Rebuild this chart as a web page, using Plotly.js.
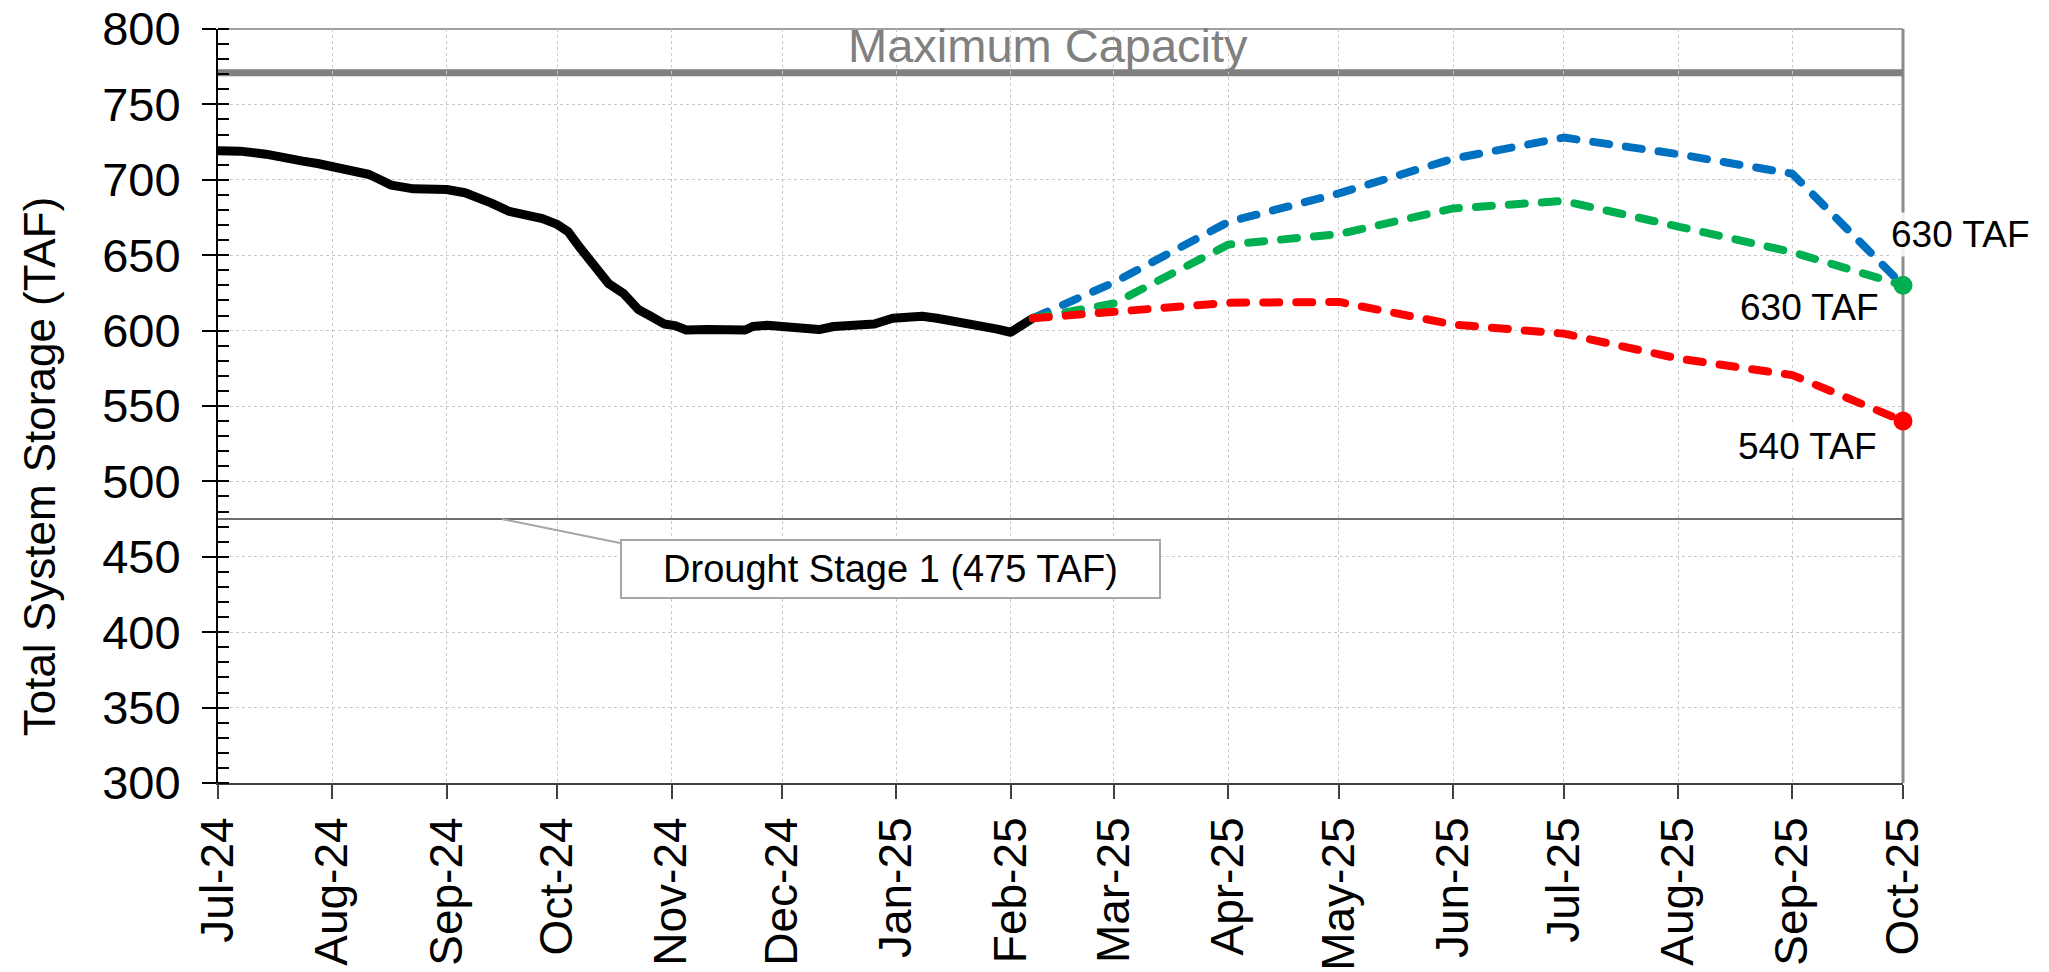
<!DOCTYPE html>
<html>
<head>
<meta charset="utf-8">
<script src="https://cdn.plot.ly/plotly-3.0.1.min.js"></script>
<style>
  html, body { margin: 0; padding: 0; background: #fff; }
  #chart { width: 2049px; height: 972px; }
  .scatterlayer .js-line { stroke-linecap: round !important; stroke-linejoin: round !important; }
</style>
</head>
<body>
<div id="chart"></div>
<script>
// ---- Data ----
const monthTicks = ['2024-07-01','2024-08-01','2024-09-01','2024-10-01','2024-11-01','2024-12-01',
  '2025-01-01','2025-02-01','2025-03-01','2025-04-01','2025-05-01','2025-06-01','2025-07-01',
  '2025-08-01','2025-09-01','2025-10-01'];
const monthLabels = ['Jul-24','Aug-24','Sep-24','Oct-24','Nov-24','Dec-24','Jan-25','Feb-25',
  'Mar-25','Apr-25','May-25','Jun-25','Jul-25','Aug-25','Sep-25','Oct-25'];

const histDates = ['2024-07-01','2024-07-07','2024-07-14','2024-07-19','2024-07-24','2024-07-28',
  '2024-08-01','2024-08-08','2024-08-11','2024-08-14','2024-08-17','2024-08-23','2024-09-01',
  '2024-09-06','2024-09-11','2024-09-13','2024-09-18','2024-09-22','2024-09-27','2024-10-01',
  '2024-10-04','2024-10-07','2024-10-12','2024-10-15','2024-10-19','2024-10-23','2024-10-26',
  '2024-10-30','2024-11-02','2024-11-05','2024-11-11','2024-11-15','2024-11-21','2024-11-23',
  '2024-11-27','2024-12-01','2024-12-07','2024-12-11','2024-12-15','2024-12-21','2024-12-26',
  '2024-12-31','2025-01-04','2025-01-08','2025-01-12','2025-01-18','2025-01-23','2025-01-28',
  '2025-02-01','2025-02-03','2025-02-05','2025-02-07'];
const histStorage = [719.2,719.0,717.0,714.0,712.4,710.8,
  708.6,705.3,703.5,700.0,696.5,694.0,693.6,
  691.4,687.6,684.7,679.0,677.0,674.3,670.4,
  665.5,655.5,640.0,631.0,624.6,614.0,610.0,
  604.4,603.3,600.4,600.7,601.1,600.4,602.7,
  603.5,602.7,601.5,600.7,602.7,602.9,604.4,
  608.2,609.3,609.5,608.2,606.0,604.4,601.1,
  598.9,602.2,606.2,608.2];

const forecastDates = ['2025-02-07','2025-03-01','2025-04-01','2025-05-01','2025-06-01',
  '2025-07-01','2025-08-01','2025-09-01','2025-10-01'];
const wetForecast = [608.2, 632, 672, 691, 714, 728, 717, 704, 630];
const avgForecast = [608.2, 618, 657, 664, 681, 686, 669, 652, 630];
const dryForecast = [608.2, 612, 618.5, 619, 604, 598, 581.5, 570.5, 540];

const maxCapacity = 771;
const droughtStage1 = 475;
const droughtLabelDate = '2024-09-16';

const endLabels = ['630 TAF', '630 TAF', '540 TAF'];

// ---- Styling ----
const FONT = 'Liberation Sans, Arial, sans-serif';
const BLUE = '#0070C0', GREEN = '#00B050', RED = '#FF0000';
const DASH = '16px,17px';
const last = a => a[a.length - 1];

const traces = [
  { x: histDates, y: histStorage, type: 'scatter', mode: 'lines', name: 'Observed',
    line: { color: '#000000', width: 9 } },
  { x: forecastDates, y: wetForecast, type: 'scatter', mode: 'lines', name: 'Wet',
    line: { color: BLUE, width: 8, dash: DASH } },
  { x: forecastDates, y: avgForecast, type: 'scatter', mode: 'lines', name: 'Average',
    line: { color: GREEN, width: 8, dash: DASH } },
  { x: forecastDates, y: dryForecast, type: 'scatter', mode: 'lines', name: 'Dry',
    line: { color: RED, width: 8, dash: DASH } },
  { x: [last(forecastDates)], y: [last(avgForecast)], type: 'scatter', mode: 'markers',
    marker: { color: GREEN, size: 19 }, cliponaxis: false },
  { x: [last(forecastDates)], y: [last(dryForecast)], type: 'scatter', mode: 'markers',
    marker: { color: RED, size: 19 }, cliponaxis: false }
];

const layout = {
  width: 2049, height: 972,
  margin: { l: 218, r: 146, t: 29, b: 189, pad: 0 },
  paper_bgcolor: '#ffffff', plot_bgcolor: '#ffffff',
  showlegend: false,
  font: { family: FONT, color: '#000000', size: 46 },
  xaxis: {
    type: 'date',
    range: [monthTicks[0], last(monthTicks)],
    tickmode: 'array', tickvals: monthTicks, ticktext: monthLabels,
    tickangle: -90,
    tickfont: { family: FONT, size: 46, color: '#000000' },
    ticks: 'outside', ticklen: 14, tickwidth: 2, tickcolor: '#404040',
    showline: true, linecolor: '#404040', linewidth: 2,
    showgrid: true, gridcolor: '#c8c8c8', gridwidth: 1, griddash: 'dot',
    zeroline: false, fixedrange: true
  },
  yaxis: {
    range: [300, 800],
    tick0: 300, dtick: 50,
    tickfont: { family: FONT, size: 47, color: '#000000' },
    ticks: 'outside', ticklen: 14, tickwidth: 2, tickcolor: '#000000',
    ticklabelstandoff: 12,
    minor: { dtick: 10, ticks: 'inside', ticklen: 11, tickwidth: 2, tickcolor: '#000000', showgrid: false },
    showline: true, linecolor: '#000000', linewidth: 2,
    showgrid: true, gridcolor: '#c8c8c8', gridwidth: 1, griddash: 'dot',
    zeroline: false, fixedrange: true
  },
  yaxis2: {
    overlaying: 'y', matches: 'y', side: 'left', range: [300, 800],
    tick0: 300, dtick: 50, ticks: 'inside', ticklen: 11, tickwidth: 2, tickcolor: '#000000',
    showticklabels: false, showgrid: false, showline: false, zeroline: false, fixedrange: true
  },
  shapes: [
    { type: 'line', layer: 'between', xref: 'paper', yref: 'paper', x0: 0, x1: 1, y0: 1, y1: 1,
      line: { color: '#a0a0a0', width: 2 } },
    { type: 'line', layer: 'between', xref: 'paper', yref: 'paper', x0: 1, x1: 1, y0: 0, y1: 1,
      line: { color: '#8c8c8c', width: 3 } },
    { type: 'line', layer: 'between', xref: 'paper', yref: 'y', x0: 0, x1: 1, y0: maxCapacity, y1: maxCapacity,
      line: { color: '#808080', width: 7 } },
    { type: 'line', layer: 'between', xref: 'paper', yref: 'y', x0: 0, x1: 1, y0: droughtStage1, y1: droughtStage1,
      line: { color: '#6e6e6e', width: 2 } },
    // leader line from the drought line to the label box corner
    { type: 'line', layer: 'above', xref: 'x', yref: 'y',
      xsizemode: 'pixel', ysizemode: 'pixel', xanchor: droughtLabelDate, yanchor: droughtStage1,
      x0: 0, y0: 0, x1: 118, y1: -24,
      line: { color: '#a6a6a6', width: 2 } }
  ],
  annotations: [
    { text: 'Total System Storage (TAF)', textangle: -90, xref: 'paper', yref: 'paper',
      x: 0, y: 0.420, xanchor: 'center', yanchor: 'middle', xshift: -179, showarrow: false,
      font: { family: FONT, size: 44, color: '#000000' } },
    { text: 'Maximum Capacity', xref: 'paper', yref: 'y', x: 0.4927, y: maxCapacity,
      xanchor: 'center', yanchor: 'bottom', showarrow: false, borderpad: 0,
      font: { family: FONT, size: 47, color: '#808080' } },
    { text: 'Drought Stage 1 (475 TAF)', xref: 'x', yref: 'y', x: droughtLabelDate, y: droughtStage1,
      showarrow: false, xanchor: 'center', yanchor: 'middle', xshift: 389, yshift: -50,
      bgcolor: '#ffffff', bordercolor: '#a6a6a6', borderwidth: 2, borderpad: 0,
      width: 537, height: 56,
      font: { family: FONT, size: 38, color: '#000000' } },
    { text: endLabels[0], xref: 'x', yref: 'y', x: last(forecastDates), y: last(wetForecast),
      showarrow: false, xshift: 57, yshift: 51, bgcolor: 'rgba(255,255,255,0.85)',
      font: { family: FONT, size: 37, color: '#000000' } },
    { text: endLabels[1], xref: 'x', yref: 'y', x: last(forecastDates), y: last(avgForecast),
      showarrow: false, xshift: -94, yshift: -22, bgcolor: 'rgba(255,255,255,0.85)',
      font: { family: FONT, size: 37, color: '#000000' } },
    { text: endLabels[2], xref: 'x', yref: 'y', x: last(forecastDates), y: last(dryForecast),
      showarrow: false, xshift: -96, yshift: -25, bgcolor: 'rgba(255,255,255,0.85)',
      font: { family: FONT, size: 37, color: '#000000' } }
  ]
};

Plotly.newPlot('chart', traces, layout, { displayModeBar: false, staticPlot: true });
</script>
</body>
</html>
